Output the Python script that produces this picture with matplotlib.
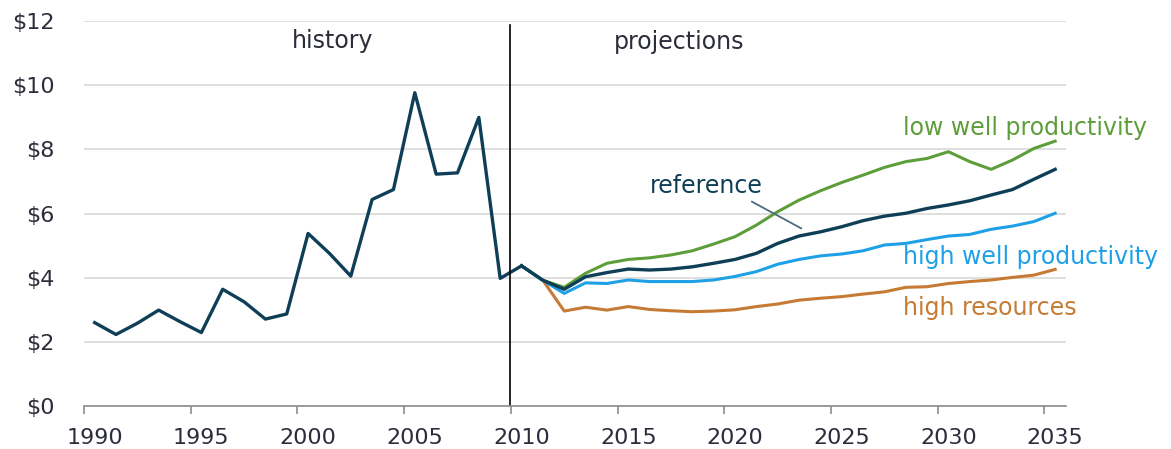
import matplotlib.pyplot as plt
import numpy as np

# data ($ per million Btu)
hist_years = np.arange(1990, 2011)
history = [2.60, 2.23, 2.58, 2.99, 2.63, 2.29, 3.64, 3.25, 2.71, 2.87, 5.38,
           4.76, 4.05, 6.44, 6.75, 9.77, 7.23, 7.27, 9.00, 3.98, 4.37]

proj_years = np.arange(2010, 2036)
reference = [4.37, 3.92, 3.64, 4.03, 4.16, 4.27, 4.24, 4.27, 4.34, 4.45, 4.57,
             4.76, 5.07, 5.30, 5.43, 5.59, 5.78, 5.92, 6.01, 6.16, 6.27, 6.40,
             6.58, 6.75, 7.07, 7.38]
low_well = [4.37, 3.92, 3.70, 4.14, 4.45, 4.57, 4.62, 4.71, 4.84, 5.05, 5.28,
            5.64, 6.06, 6.42, 6.71, 6.97, 7.20, 7.44, 7.62, 7.72, 7.93, 7.62,
            7.38, 7.67, 8.03, 8.26]
high_well = [4.37, 3.92, 3.51, 3.84, 3.82, 3.93, 3.88, 3.88, 3.88, 3.93, 4.04,
             4.19, 4.42, 4.57, 4.68, 4.74, 4.84, 5.02, 5.07, 5.19, 5.30, 5.35,
             5.51, 5.61, 5.75, 6.01]
high_res = [4.37, 3.92, 2.96, 3.08, 2.99, 3.10, 3.01, 2.97, 2.94, 2.96, 3.00,
            3.10, 3.18, 3.30, 3.36, 3.41, 3.49, 3.56, 3.70, 3.72, 3.82, 3.88,
            3.93, 4.01, 4.08, 4.26]

year_labels = np.arange(1990, 2036, 5)
y_ticks = np.arange(0, 13, 2)

navy = '#0f3f57'
green = '#5e9e3a'
blue = '#1ea0e6'
orange = '#c67a33'
text_col = '#2b2d3a'

plt.rcParams['font.family'] = ['DejaVu Sans']

fig = plt.figure(figsize=(11.71, 4.49), dpi=100)
ax = fig.add_axes([0.0717, 0.0958, 0.8385, 0.857])

ax.plot(proj_years, high_res, color=orange, lw=2.2, zorder=3)
ax.plot(proj_years, high_well, color=blue, lw=2.2, zorder=4)
ax.plot(proj_years, low_well, color=green, lw=2.2, zorder=3)
ax.plot(proj_years, reference, color=navy, lw=2.4, zorder=5)
ax.plot(hist_years, history, color=navy, lw=2.4, zorder=5)

# history / projections divider
ax.axvline(2009.45, ymin=0, ymax=0.99, color='black', lw=1.2, zorder=6)

ax.set_xlim(1989.5, 2035.5)
ax.set_ylim(0, 12)

ax.set_xticks(year_labels)
ax.set_xticklabels([str(y) for y in year_labels])
ax.set_xticks(year_labels - 0.5, minor=True)
ax.tick_params(axis='x', which='major', length=0, pad=16, labelsize=16, labelcolor=text_col)
ax.tick_params(axis='x', which='minor', length=6, width=1.2, color='#8c8c8c', direction='out')

ax.set_yticks(y_ticks)
ax.set_yticklabels(['$' + str(v) for v in y_ticks])
ax.tick_params(axis='y', length=0, pad=21, labelsize=16, labelcolor=text_col)

ax.grid(axis='y', color='#d9d9d9', lw=1.2)
ax.set_axisbelow(True)
for s in ['top', 'right', 'left']:
    ax.spines[s].set_visible(False)
ax.spines['bottom'].set_color('#8c8c8c')
ax.spines['bottom'].set_linewidth(1.2)
ax.spines['bottom'].set_zorder(7)

ax.text(2001.17, 11.15, 'history', ha='center', va='baseline', fontsize=17, color=text_col)
ax.text(2017.4, 11.12, 'projections', ha='center', va='baseline', fontsize=17, color=text_col)
ax.text(2027.86, 8.45, 'low well productivity', ha='left', va='baseline', fontsize=17, color=green)
ax.text(2016.0, 6.63, 'reference', ha='left', va='baseline', fontsize=17, color=navy)
ax.text(2027.86, 4.43, 'high well productivity', ha='left', va='baseline', fontsize=17, color=blue)
ax.text(2027.86, 2.84, 'high resources', ha='left', va='baseline', fontsize=17, color=orange)
# leader line from the reference label
ax.plot([2020.8, 2023.1], [6.37, 5.54], color='#4a6b7c', lw=1.3, zorder=6)

fig.savefig('out.png', dpi=100)
